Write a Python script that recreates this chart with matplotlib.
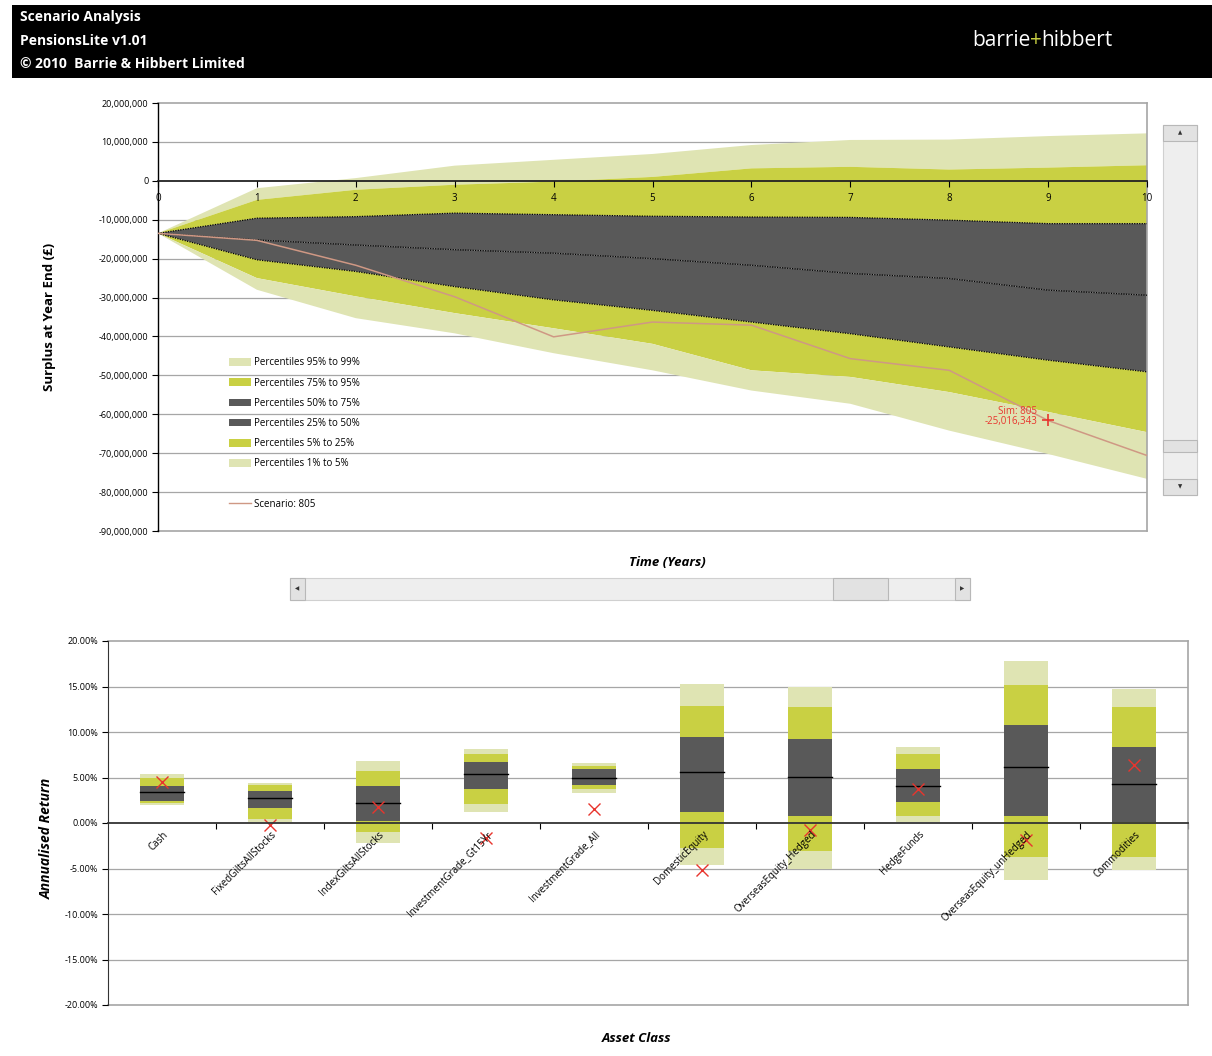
import matplotlib
matplotlib.use("Agg")
import matplotlib.pyplot as plt
import matplotlib.ticker as mticker
from matplotlib.patches import Rectangle, Patch
from matplotlib.lines import Line2D

plt.rcParams['font.family'] = ['Open Sans', 'DejaVu Sans']

# ---------------- data: surplus fan chart (values in millions GBP) ----------------
years = [0, 1, 2, 3, 4, 5, 6, 7, 8, 9, 10]
p99 = [-13.5, -1.9, 0.7, 3.9, 5.4, 6.9, 9.2, 10.5, 10.6, 11.5, 12.2]
p95 = [-13.5, -4.9, -2.3, -1.0, -0.2, 1.0, 3.2, 3.6, 2.9, 3.4, 4.0]
p75 = [-13.5, -9.6, -9.2, -8.3, -8.7, -9.1, -9.3, -9.4, -10.1, -11.0, -11.0]
p50 = [-13.5, -15.2, -16.5, -17.7, -18.6, -20.0, -21.7, -23.8, -25.1, -28.1, -29.4]
p25 = [-13.5, -20.3, -23.3, -27.2, -30.6, -33.3, -36.3, -39.3, -42.7, -46.1, -49.1]
p5 = [-13.5, -25.0, -29.7, -34.0, -37.9, -41.9, -48.7, -50.4, -54.3, -59.4, -64.6]
p1 = [-13.5, -28.0, -35.3, -39.2, -44.3, -48.7, -53.9, -57.3, -64.2, -70.2, -76.6]
scenario = [-13.5, -15.3, -21.7, -29.8, -40.1, -36.3, -37.1, -45.7, -48.7, -61.6, -70.6]
scenario_year = 9
scenario_note = "Sim: 805\n-25,016,343"
band_labels = ["Percentiles 95% to 99%", "Percentiles 75% to 95%", "Percentiles 50% to 75%",
               "Percentiles 25% to 50%", "Percentiles 5% to 25%", "Percentiles 1% to 5%"]
scenario_label = "Scenario: 805"

# ---------------- data: annualised return by asset class (%) ----------------
categories = ['Cash', 'FixedGiltsAllStocks', 'IndexGiltsAllStocks', 'InvestmentGrade_Gt15Yr',
              'InvestmentGrade_All', 'DomesticEquity', 'OverseasEquity_Hedged', 'HedgeFunds',
              'OverseasEquity_unHedged', 'Commodities']
r99 = [5.4, 4.35, 6.8, 8.1, 6.6, 15.3, 14.9, 8.3, 17.8, 14.7]
r95 = [5.0, 4.2, 5.7, 7.6, 6.3, 12.9, 12.7, 7.6, 15.2, 12.7]
r75 = [4.1, 3.5, 4.1, 6.7, 5.9, 9.5, 9.2, 5.9, 10.8, 8.4]
r50 = [3.4, 2.7, 2.2, 5.4, 5.0, 5.6, 5.1, 4.1, 6.2, 4.3]
r25 = [2.45, 1.6, 0.2, 3.7, 4.2, 1.2, 0.8, 2.3, 0.8, 0.1]
r5 = [2.2, 0.4, -1.0, 2.1, 3.7, -2.7, -3.1, 0.8, -3.7, -3.7]
r1 = [2.0, 0.1, -2.2, 1.2, 3.3, -4.6, -5.0, 0.1, -6.3, -5.2]
rscen = [4.5, -0.2, 1.8, -1.6, 1.5, -5.2, -0.8, 3.7, -1.9, 6.4]

LIGHT = "#dfe4b3"
BRIGHT = "#c9d043"
DARK = "#595959"
GRID = "#a6a6a6"
SCEN = "#cf9884"
RED = "#e8352e"

W, H = 1212, 1056
fig = plt.figure(figsize=(W / 100, H / 100), dpi=100)


def fx(x):
    return x / W


def fy(y):
    return 1 - y / H


# ---------------- header ----------------
fig.patches.append(Rectangle((fx(12), fy(78)), 1 - fx(12), (78 - 5) / H,
                             transform=fig.transFigure, facecolor='black', edgecolor='none', zorder=0))
for txt, yy in [("Scenario Analysis", 17), ("PensionsLite v1.01", 41), ("\u00a9 2010  Barrie & Hibbert Limited", 64)]:
    fig.text(fx(20), fy(yy), txt, color='white', fontsize=10, fontweight='bold', va='center', ha='left')
fig.text(fx(1031), fy(41), "barrie", color='white', fontsize=15, va='center', ha='right')
fig.text(fx(1036), fy(41), "+", color=BRIGHT, fontsize=15, va='center', ha='center')
fig.text(fx(1041), fy(41), "hibbert", color='white', fontsize=15, va='center', ha='left')

# ---------------- top fan chart ----------------
ax = fig.add_axes([fx(158), fy(531), (1147 - 158) / W, (531 - 103) / H])
M = 1e6
Y = lambda arr: [v * M for v in arr]
bands = [(p95, p99, LIGHT), (p75, p95, BRIGHT), (p50, p75, DARK),
         (p25, p50, DARK), (p5, p25, BRIGHT), (p1, p5, LIGHT)]
for lo, hi, c in bands:
    ax.fill_between(years, Y(lo), Y(hi), facecolor=c, edgecolor='none', zorder=2)
for arr in (p75, p50, p25):
    ax.plot(years, Y(arr), color='black', lw=0.9, ls=(0, (1, 1)), zorder=3)
ax.plot(years, Y(scenario), color=SCEN, lw=1.1, zorder=4)
ax.plot([scenario_year], [scenario[scenario_year] * M], marker='+', color=RED, ms=9, mew=1.2, zorder=5)
ax.annotate(scenario_note, (scenario_year, scenario[scenario_year] * M), xytext=(-8, 3),
            textcoords='offset points', ha='right', va='center', color=RED, fontsize=7,
            linespacing=0.95, zorder=6)

ax.set_xlim(0, 10)
ax.set_ylim(-90 * M, 20 * M)
ax.set_yticks([v * M for v in range(-90, 21, 10)])
ax.yaxis.set_major_formatter(mticker.FuncFormatter(lambda v, p: f"{v:,.0f}"))
ax.set_xticks(years)
ax.set_xticklabels([str(y) for y in years])
for v in range(-80, 20, 10):
    if v != 0:
        ax.axhline(v * M, color=GRID, lw=0.9, zorder=1)
ax.axhline(20 * M, color=GRID, lw=1.2, zorder=1, clip_on=False)
ax.axhline(-90 * M, color=GRID, lw=1.2, zorder=1, clip_on=False)
ax.spines['bottom'].set_position(('data', 0))
ax.spines['bottom'].set_color('#222222')
ax.spines['bottom'].set_linewidth(1.3)
ax.spines['bottom'].set_zorder(7)
ax.spines['left'].set_color('black')
ax.spines['left'].set_linewidth(1.0)
ax.spines['top'].set_visible(False)
ax.spines['right'].set_color(GRID)
ax.spines['right'].set_linewidth(1.2)
ax.tick_params(axis='x', direction='out', length=4, pad=5, labelsize=7, color='black')
ax.tick_params(axis='y', direction='out', length=4, pad=3, labelsize=6.5, color='black')
ax.xaxis.set_zorder(8)

handles = [Patch(facecolor=c, edgecolor='none') for _, _, c in bands]
labels = list(band_labels)
handles.append(Line2D([], [], color='none'))
labels.append(" ")
handles.append(Line2D([], [], color=SCEN, lw=1.0))
labels.append(scenario_label)
leg = ax.legend(handles, labels, loc='upper left', bbox_to_anchor=(0.068, 0.415), frameon=False,
                fontsize=7, handlelength=2.2, handleheight=0.8, labelspacing=0.95, handletextpad=0.4,
                borderaxespad=0)
leg.set_zorder(9)

fig.text(fx(50), fy(317), "Surplus at Year End (\u00a3)", rotation=90, fontsize=9.5, fontweight='bold',
         ha='center', va='center')
fig.text(fx(667), fy(562), "Time (Years)", fontsize=9.5, fontweight='bold', style='italic',
         ha='center', va='center')

# ---------------- scrollbars (decoration) ----------------
def rect_px(x0, y0, x1, y1, fc, ec, z=1):
    fig.patches.append(Rectangle((fx(x0), fy(y1)), (x1 - x0) / W, (y1 - y0) / H, transform=fig.transFigure,
                                 facecolor=fc, edgecolor=ec, lw=0.8, zorder=z))

rect_px(1163, 125, 1197, 495, "#eeeeee", "#d0d0d0")
rect_px(1163, 125, 1197, 141, "#e2e2e2", "#b8b8b8", 2)
rect_px(1163, 479, 1197, 495, "#e2e2e2", "#b8b8b8", 2)
rect_px(1163, 440, 1197, 452, "#e2e2e2", "#b8b8b8", 2)
fig.text(fx(1180), fy(133), "\u25b2", fontsize=4, ha='center', va='center', color='#333333')
fig.text(fx(1180), fy(487), "\u25bc", fontsize=4, ha='center', va='center', color='#333333')

rect_px(290, 578, 970, 600, "#eeeeee", "#d0d0d0")
rect_px(290, 578, 305, 600, "#e2e2e2", "#b8b8b8", 2)
rect_px(955, 578, 970, 600, "#e2e2e2", "#b8b8b8", 2)
rect_px(833, 578, 888, 600, "#e2e2e2", "#b8b8b8", 2)
fig.text(fx(297.5), fy(589), "\u25c0", fontsize=4, ha='center', va='center', color='#333333')
fig.text(fx(962.5), fy(589), "\u25b6", fontsize=4, ha='center', va='center', color='#333333')

# ---------------- bottom chart ----------------
bx = fig.add_axes([fx(108), fy(1005), (1188 - 108) / W, (1005 - 641) / H])
xs = list(range(len(categories)))
bw = 0.41
segs = [(r1, r5, LIGHT), (r5, r25, BRIGHT), (r25, r75, DARK), (r75, r95, BRIGHT), (r95, r99, LIGHT)]
for lo, hi, c in segs:
    bx.bar(xs, [h - l for l, h in zip(lo, hi)], bottom=lo, width=bw, color=c, edgecolor='none', zorder=2)
for i, m in zip(xs, r50):
    bx.plot([i - bw / 2, i + bw / 2], [m, m], color='black', lw=1.0, zorder=3)
bx.plot(xs, rscen, ls='none', marker='x', color=RED, ms=8, mew=1.0, zorder=5)

bx.set_xlim(-0.5, len(categories) - 0.5)
bx.set_ylim(-20, 20)
bx.set_yticks(range(-20, 21, 5))
bx.yaxis.set_major_formatter(mticker.FuncFormatter(lambda v, p: f"{v:.2f}%"))
for v in range(-15, 20, 5):
    if v != 0:
        bx.axhline(v, color=GRID, lw=0.9, zorder=1)
bx.axhline(20, color=GRID, lw=1.2, zorder=1, clip_on=False)
bx.axhline(-20, color=GRID, lw=1.2, zorder=1, clip_on=False)
bx.spines['bottom'].set_position(('data', 0))
bx.spines['bottom'].set_color('#333333')
bx.spines['bottom'].set_linewidth(1.3)
bx.spines['bottom'].set_zorder(6)
bx.spines['left'].set_color('#333333')
bx.spines['top'].set_visible(False)
bx.spines['right'].set_color(GRID)
bx.spines['right'].set_linewidth(1.2)
bx.set_xticks([i + 0.5 for i in xs])
bx.set_xticklabels([])
bx.tick_params(axis='x', direction='out', length=4, color='black')
bx.tick_params(axis='y', direction='out', length=4, pad=3, labelsize=6.5, color='black')
for i, name in zip(xs, categories):
    bx.text(i + 0.04, -1.1, name, rotation=45, rotation_mode='anchor', ha='right', va='center',
            fontsize=7, zorder=7)

fig.text(fx(47), fy(838), "Annualised Return", rotation=90, fontsize=10, fontweight='bold', style='italic',
         ha='center', va='center')
fig.text(fx(637), fy(1038), "Asset Class", fontsize=9.5, fontweight='bold', style='italic',
         ha='center', va='center')

fig.savefig("out.png", dpi=100, facecolor='white')
